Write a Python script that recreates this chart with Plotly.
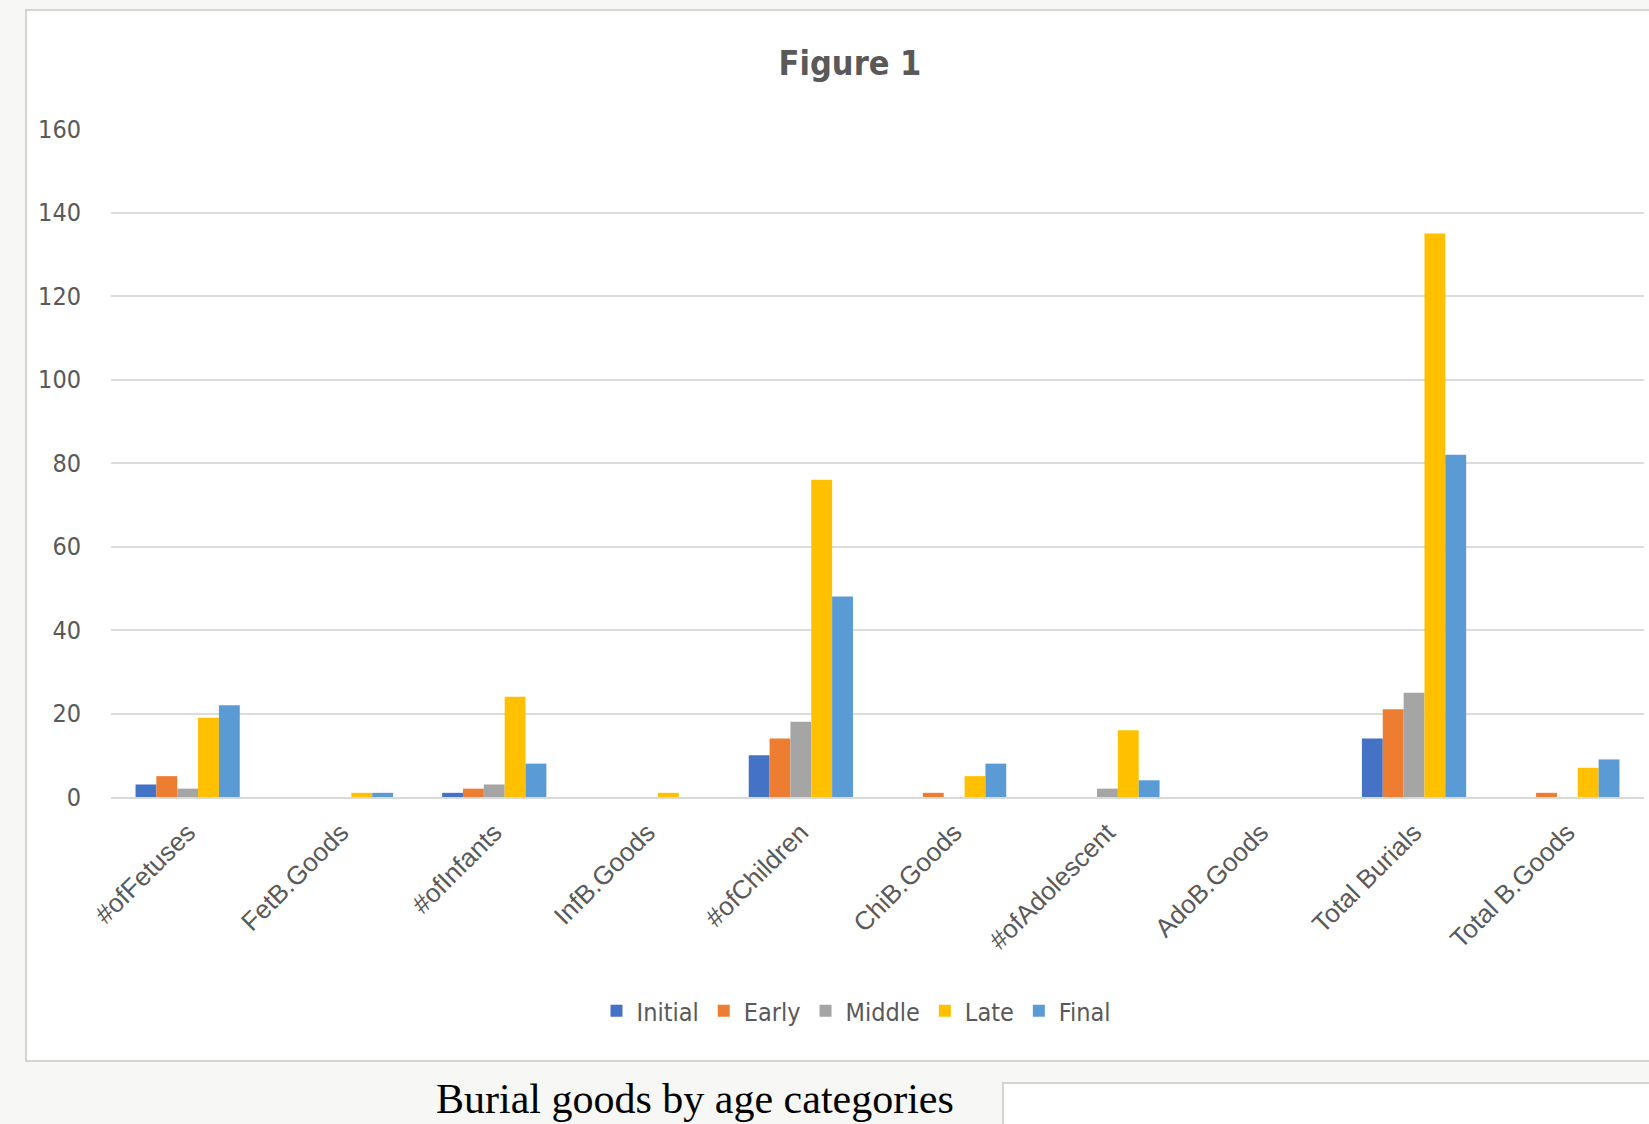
import plotly.graph_objects as go

categories = ["#ofFetuses", "FetB.Goods", "#ofInfants", "InfB.Goods", "#ofChildren",
              "ChiB.Goods", "#ofAdolescent", "AdoB.Goods", "Total Burials", "Total B.Goods"]
initial = [3, 0, 1, 0, 10, 0, 0, 0, 14, 0]
early = [5, 0, 2, 0, 14, 1, 0, 0, 21, 1]
middle = [2, 0, 3, 0, 18, 0, 2, 0, 25, 0]
late = [19, 1, 24, 1, 76, 5, 16, 0, 135, 7]
final = [22, 1, 8, 0, 48, 8, 4, 0, 82, 9]
series_names = ["Initial", "Early", "Middle", "Late", "Final"]
series_values = [initial, early, middle, late, final]
colors = ["#4472C4", "#ED7D31", "#A5A5A5", "#FFC000", "#5B9BD5"]
y_ticks = [0, 20, 40, 60, 80, 100, 120, 140, 160]

W, H = 1649, 1124
L, R = 111, 1644
T, B = 129, 797
pw, ph = R - L, B - T


def px(x):
    return (x - L) / pw


def py(y):
    return (B - y) / ph


GRAY = "#595959"
NARROW = "DejaVu Sans Condensed, Liberation Sans Narrow, sans-serif"

fig = go.Figure()
for name, vals, c in zip(series_names, series_values, colors):
    fig.add_trace(go.Bar(x=categories, y=vals, name=name, marker_color=c,
                         marker_line_width=0))

fig.update_layout(
    width=W, height=H,
    margin=dict(l=L, r=W - R, t=T, b=H - B, pad=0),
    paper_bgcolor="#f7f7f5",
    plot_bgcolor="rgba(0,0,0,0)",
    barmode="group", bargap=0.32, bargroupgap=0,
    title=dict(text="<b>Figure 1</b>", x=px(850), xanchor="center", xref="paper",
               y=1 - 63 / H, yanchor="middle", yref="container",
               font=dict(family=NARROW, size=34, color=GRAY)),
    legend=dict(orientation="h", x=px(856), xanchor="center", y=py(1011), yanchor="middle",
                font=dict(family=NARROW, size=25, color=GRAY), bgcolor="rgba(0,0,0,0)",
                itemwidth=30, tracegroupgap=0),
    xaxis=dict(tickangle=-45, tickfont=dict(family="Liberation Sans, Arial, sans-serif", size=26, color=GRAY),
               showline=True, linecolor="#d9d9d9", linewidth=2, ticks="", showgrid=False,
               ticklabelstandoff=8),
    yaxis=dict(range=[0, 160], tickvals=y_ticks, showgrid=True, gridcolor="#dcdcdc", gridwidth=1.5,
               zeroline=False, showline=False, ticks="",
               tickfont=dict(family=NARROW, size=25, color=GRAY), ticklabelstandoff=29),
    shapes=[
        dict(type="rect", xref="paper", yref="paper", layer="below",
             x0=px(26), x1=px(1700), y0=py(1061), y1=py(10),
             fillcolor="white", line=dict(color="#d4d4d4", width=2)),
        dict(type="rect", xref="paper", yref="paper", layer="below",
             x0=px(1003), x1=px(1700), y0=py(1140), y1=py(1083),
             fillcolor="white", line=dict(color="#d4d4d4", width=2)),
    ],
    annotations=[
        dict(text="Burial goods by age categories", xref="paper", yref="paper",
             x=px(695), y=py(1099), xanchor="center", yanchor="middle", showarrow=False,
             font=dict(family="Liberation Serif, Times New Roman, serif", size=42, color="black")),
    ],
)

fig.write_html("out.html")
